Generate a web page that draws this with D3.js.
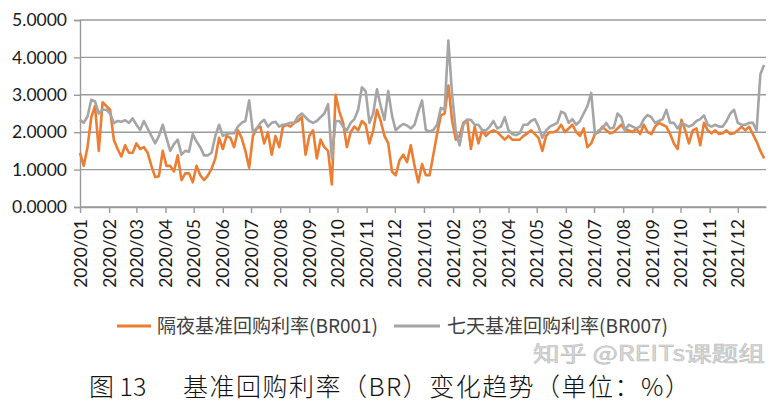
<!DOCTYPE html>
<html><head><meta charset="utf-8">
<script src="https://cdn.jsdelivr.net/npm/d3@7/dist/d3.min.js"></script>
<style>html,body{margin:0;padding:0;background:#fff;}svg{display:block;}</style>
</head><body><svg id="c" width="772" height="403"></svg>
<script>
// ---- data ----
const startDate = "2020-01-01";      // first sample
const stepDays = 4;                  // sampling interval of the series (days)
const monthLabels = ["2020/01","2020/02","2020/03","2020/04","2020/05","2020/06","2020/07","2020/08","2020/09","2020/10","2020/11","2020/12",
  "2021/01","2021/02","2021/03","2021/04","2021/05","2021/06","2021/07","2021/08","2021/09","2021/10","2021/11","2021/12"];
const yTicks = [0,1,2,3,4,5];
const seriesNames = ["隔夜基准回购利率(BR001)","七天基准回购利率(BR007)"];
const br001 = [1.45,1.1,1.6,2.4,2.7,1.5,2.8,2.7,2.6,1.8,1.55,1.35,1.65,1.45,1.45,1.7,1.55,1.6,1.45,1.1,
  0.8,0.82,1.5,1.1,1.1,0.95,1.38,0.72,0.9,0.9,0.66,1.1,0.85,0.72,0.84,1.02,1.3,1.85,1.55,1.9,
  1.85,1.6,2.05,1.85,1.5,1.05,1.9,2.1,2.15,1.7,2.0,1.4,1.9,1.6,2.15,2.2,2.15,2.25,2.3,2.4,
  1.4,1.9,2.05,1.3,1.8,1.6,1.5,0.6,3.0,2.55,2.25,1.6,2.0,2.15,2.05,2.3,2.2,1.7,2.05,2.6,
  2.3,1.9,1.7,0.95,0.85,1.25,1.4,1.2,1.65,1.1,0.66,1.15,0.85,0.85,1.4,1.95,2.45,2.5,3.25,2.3,
  1.8,1.9,2.25,2.33,1.55,2.15,1.7,2.05,1.9,2.0,2.05,2.0,1.9,1.8,1.9,1.8,1.8,1.8,1.9,1.97,
  2.05,1.95,1.85,1.5,1.9,2.0,2.0,2.05,2.2,2.0,2.1,2.2,2.0,1.9,2.1,1.6,1.7,1.95,2.0,2.15,
  2.05,1.97,2.0,2.1,2.2,2.05,2.05,2.0,2.1,1.95,2.2,2.0,1.95,2.15,2.25,2.2,2.15,1.95,1.7,1.55,
  2.33,2.05,1.7,2.05,2.1,1.65,2.25,2.05,1.97,2.05,1.95,1.97,2.05,1.95,1.97,2.05,2.15,2.05,2.15,1.95,
  1.75,1.5,1.3];
const br007 = [2.33,2.25,2.42,2.87,2.82,2.5,2.6,2.6,2.5,2.24,2.3,2.28,2.32,2.25,2.37,2.2,2.06,2.3,2.1,1.9,
  1.7,1.9,2.2,1.85,1.5,1.68,1.8,1.4,1.5,1.48,1.95,1.75,1.6,1.38,1.38,1.45,1.9,2.2,1.9,1.95,
  1.97,1.97,2.15,2.25,2.3,2.85,2.0,2.1,2.25,2.33,2.15,2.25,2.28,2.15,2.2,2.22,2.25,2.25,2.42,2.5,
  2.4,2.3,2.25,2.3,2.4,2.5,2.75,1.3,2.3,2.3,2.15,2.05,2.25,2.35,2.6,3.2,3.1,2.25,2.5,3.15,
  2.7,2.33,3.1,2.45,2.05,2.15,2.22,2.18,2.1,2.2,2.55,2.85,2.06,2.02,2.06,2.2,2.65,2.6,4.45,3.0,
  2.0,1.65,2.2,2.33,2.33,2.2,2.2,2.05,2.05,2.15,2.3,2.1,2.15,2.4,2.05,1.95,1.92,1.97,2.2,2.2,
  2.3,2.35,2.15,1.85,2.05,2.15,2.2,2.25,2.55,2.5,2.25,2.35,2.2,2.3,2.5,2.7,3.05,1.95,2.05,2.1,
  2.25,2.1,2.12,2.5,2.4,2.05,2.2,2.15,2.1,2.15,2.35,2.46,2.4,2.25,2.3,2.35,2.6,2.25,2.25,2.1,
  2.25,2.2,2.15,2.2,2.3,2.35,2.45,2.2,2.15,2.2,2.15,2.15,2.3,2.5,2.6,2.25,2.2,2.2,2.25,2.25,
  2.05,3.55,3.8];
const titleNum = "图 13";
const titleText = "基准回购利率（BR）变化趋势（单位：%）";
const watermark = "知乎 @REITs课题组";

// ---- chart ----
const svg = d3.select("#c");
const parseDay = d3.timeParse("%Y-%m-%d");
const parseMonth = d3.timeParse("%Y/%m");
const t0 = parseDay(startDate);
const dates = br001.map((_, i) => d3.timeDay.offset(t0, i * stepDays));

const x = d3.scaleTime().domain([t0, parseDay("2021-12-31")]).range([80, 766]);
const y = d3.scaleLinear().domain([0, 5]).range([207, 20]);
const axisCol = "#9a9a9a";
const lab = "Lato, 'Liberation Sans', sans-serif";

// gridlines
svg.append("g").selectAll("line").data(yTicks).join("line")
  .attr("x1", 80).attr("x2", 766).attr("y1", d => y(d)).attr("y2", d => y(d))
  .attr("stroke", axisCol).attr("stroke-width", 1.4);

// y axis
const ya = svg.append("g").attr("transform", "translate(80,0)")
  .call(d3.axisLeft(y).tickValues(yTicks).tickFormat(d3.format(".4f")).tickSize(6).tickPadding(7));
ya.select(".domain").attr("stroke", axisCol).attr("stroke-width", 1.4);
ya.selectAll(".tick line").attr("stroke", axisCol).attr("stroke-width", 1.4);
ya.selectAll("text").attr("font-family", lab).attr("font-size", 17.5).attr("fill", "#1a1a1a");

// x axis
const xa = svg.append("g").attr("transform", "translate(0,207)")
  .call(d3.axisBottom(x).tickValues(monthLabels.map(parseMonth)).tickFormat(d3.timeFormat("%Y/%m")).tickSize(6).tickSizeOuter(0));
xa.select(".domain").attr("stroke", axisCol).attr("stroke-width", 1.4);
xa.selectAll(".tick line").attr("stroke", axisCol).attr("stroke-width", 1.4);
xa.selectAll("text").attr("font-family", lab).attr("font-size", 17.5).attr("fill", "#1a1a1a")
  .attr("text-anchor", "end").attr("transform", "rotate(-90)")
  .attr("x", -12).attr("y", 0).attr("dy", "0.35em");

// lines
const colors = ["#ED7D31", "#A5A5A5"];
const line = d3.line().x((d, i) => x(dates[i])).y(d => y(d)).curve(d3.curveLinear);
[br001, br007].forEach((s, k) => {
  svg.append("path").datum(s).attr("d", line).attr("fill", "none")
    .attr("stroke", colors[k]).attr("stroke-width", 2.6).attr("stroke-linejoin", "round");
});

// legend
const lg = svg.append("g").attr("transform", "translate(0,326)");
const legX = [[117, 151, 157], [394, 440, 447]];
seriesNames.forEach((n, k) => {
  lg.append("line").attr("x1", legX[k][0]).attr("x2", legX[k][1]).attr("y1", 0).attr("y2", 0)
    .attr("stroke", colors[k]).attr("stroke-width", 3);
  lg.append("text").attr("x", legX[k][2]).attr("y", 0).attr("dy", "0.36em")
    .attr("font-family", "'Noto Sans CJK SC', sans-serif").attr("font-size", 19).attr("fill", "#404040")
    .text(n);
});

// title
const tf = "'Noto Sans CJK SC', serif";
svg.append("text").attr("x", 89).attr("y", 396).attr("font-family", tf).attr("font-weight", 300)
  .attr("font-size", 25).attr("fill", "#111").text(titleNum);
svg.append("text").attr("x", 183).attr("y", 396).attr("font-family", tf).attr("font-weight", 300)
  .attr("font-size", 25).attr("fill", "#111").attr("textLength", 507).attr("lengthAdjust", "spacing").text(titleText);

// watermark
svg.append("text").attr("x", 533).attr("y", 361).attr("font-family", "'Noto Sans CJK SC', sans-serif")
  .attr("font-size", 21).attr("fill", "#d0d0d0").attr("fill-opacity", 0.8)
  .attr("stroke", "#bdbdbd").attr("stroke-width", 0.6)
  .attr("textLength", 232).attr("lengthAdjust", "spacingAndGlyphs").text(watermark);
</script></body></html>
